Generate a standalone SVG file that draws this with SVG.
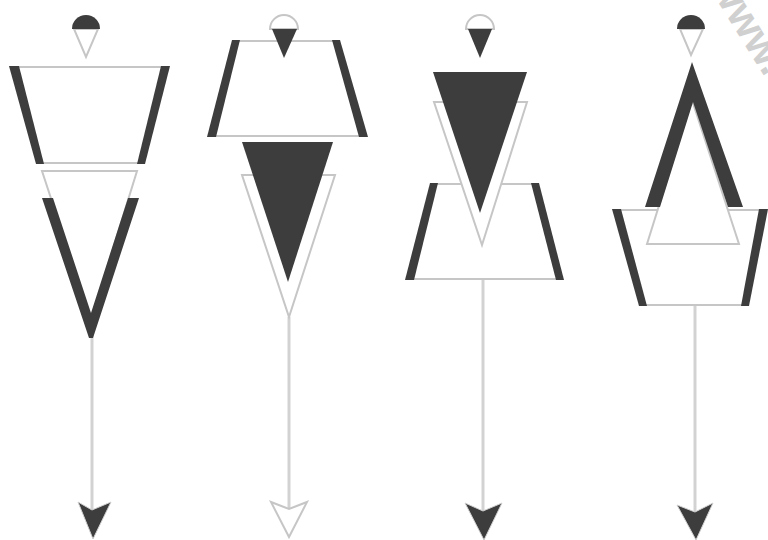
<svg xmlns="http://www.w3.org/2000/svg" width="768" height="540" viewBox="0 0 768 540">
<style>
.dk{fill:#3d3d3d;stroke:none}
.lt{fill:#fff;stroke:#c6c6c6;stroke-width:2;stroke-linejoin:miter}
.ln{fill:none;stroke:#c6c6c6;stroke-width:2}
.sh{fill:none;stroke:#d2d2d2;stroke-width:3}
.ahd{fill:#3d3d3d;stroke:#d0d0d0;stroke-width:1}
.ahl{fill:#fff;stroke:#c6c6c6;stroke-width:2}
.wm{font-family:"Liberation Sans",Arial,sans-serif;font-weight:bold;font-size:42px;fill:#d0d0d0}
</style>
<rect width="768" height="540" fill="#fff"/>
<text class="wm" transform="translate(708,-14) rotate(58)">www.</text>

<g id="connectors">
  <line class="sh" x1="92" y1="335" x2="92" y2="512"/>
  <polygon class="ahd" points="78,502 92,510 111,502 93,539"/>
  <line class="sh" x1="289" y1="317" x2="289" y2="509"/>
  <polygon class="ahl" points="271,502 289,509 307,502 289,537"/>
  <line class="sh" x1="483" y1="279" x2="483" y2="512"/>
  <polygon class="ahd" points="465,503 483,511 502,503 484,540"/>
  <line class="sh" x1="695" y1="305" x2="695" y2="512"/>
  <polygon class="ahd" points="677,505 695,512 713,503 696,540"/>
</g>

<g id="figure1">
  <g id="f1-head">
    <polygon class="lt" points="74,29 98,29 86,57"/>
    <path class="dk" d="M72,29 A14,14 0 0 1 100,29 Z"/>
  </g>
  <g id="f1-trapezoid">
    <line class="ln" x1="10" y1="67" x2="169" y2="67"/>
    <line class="ln" x1="37" y1="163" x2="144" y2="163"/>
    <polygon class="dk" points="9,66 19,66 44,164 36,164"/>
    <polygon class="dk" points="161,66 170,66 145,164 137,164"/>
  </g>
  <g id="f1-triangle">
    <polygon class="lt" points="42,171 137,171 91,320"/>
    <polygon class="dk" points="42,198 53,198 91,313 128,198 139,198 93,338 89,338"/>
  </g>
</g>

<g id="figure2">
  <g id="f2-trapezoid">
    <line class="ln" x1="233" y1="41" x2="338" y2="41"/>
    <line class="ln" x1="208" y1="136" x2="367" y2="136"/>
    <polygon class="dk" points="232,40 240,40 216,137 207,137"/>
    <polygon class="dk" points="332,40 340,40 368,137 359,137"/>
  </g>
  <g id="f2-head">
    <path class="lt" d="M270,29 A14,14 0 0 1 298,29 Z"/>
    <polygon class="dk" points="272,29 297,29 284,58"/>
  </g>
  <g id="f2-triangles">
    <polygon class="lt" points="242,175 335,175 289,317"/>
    <polygon class="dk" points="242,142 333,142 288,282"/>
  </g>
</g>

<g id="figure3">
  <g id="f3-head">
    <path class="lt" d="M466,29 A14,14 0 0 1 494,29 Z"/>
    <polygon class="dk" points="468,29 492,29 480,58"/>
  </g>
  <g id="f3-trapezoid">
    <line class="ln" x1="431" y1="184" x2="537" y2="184"/>
    <line class="ln" x1="406" y1="279" x2="563" y2="279"/>
    <polygon class="dk" points="430,183 438,183 414,280 405,280"/>
    <polygon class="dk" points="531,183 539,183 564,280 556,280"/>
  </g>
  <g id="f3-triangles">
    <polygon class="lt" points="434,102 527,102 482,245"/>
    <polygon class="dk" points="433,72 527,72 480,213"/>
  </g>
</g>

<g id="figure4">
  <g id="f4-head">
    <polygon class="lt" points="680,29 703,29 691,55"/>
    <path class="dk" d="M677,29 A14,14 0 0 1 705,29 Z"/>
  </g>
  <g id="f4-trapezoid">
    <line class="ln" x1="613" y1="210" x2="767" y2="210"/>
    <line class="ln" x1="640" y1="305" x2="747" y2="305"/>
    <polygon class="dk" points="612,209 621,209 647,306 639,306"/>
    <polygon class="dk" points="759,209 768,209 749,306 741,306"/>
  </g>
  <g id="f4-triangle">
    <polygon class="lt" points="647,244 739,244 692,100"/>
    <polygon class="dk" points="645,207 692,62 743,207 728,207 693,102 660,207"/>
  </g>
</g>
</svg>
